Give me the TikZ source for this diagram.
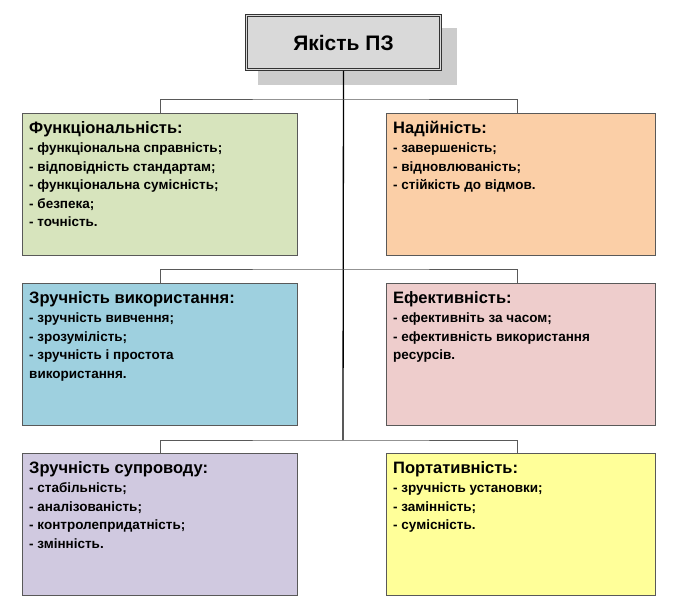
\documentclass[tikz,border=0pt]{standalone}
\usepackage{fontspec}
\setmainfont{Liberation Sans}
\usetikzlibrary{positioning}
\definecolor{funcgreen}{RGB}{215,228,189}
\definecolor{relorange}{RGB}{251,207,167}
\definecolor{useblue}{RGB}{158,208,223}
\definecolor{effpink}{RGB}{238,205,204}
\definecolor{suplilac}{RGB}{208,201,224}
\definecolor{portyellow}{RGB}{255,255,153}
\newcommand{\cardhead}[1]{{\fontsize{16.5}{21}\selectfont #1}\\[1pt]}
\tikzset{
  card/.style={draw=gray!70!black, anchor=north west, minimum height=142pt, minimum width=#1},
  cardtext/.style={anchor=north west, align=left, inner xsep=7pt, inner ysep=8pt,
    font=\bfseries\fontsize{13.5}{18.5}\selectfont},
  branch/.style={draw=gray!70!black, line width=0.8pt}
}
\begin{document}
\begin{tikzpicture}[x=1pt,y=-1pt]
    \useasboundingbox (0,0) rectangle (673,616);
    % title with shadow
    \fill[gray!40] (258,28) rectangle (457,85);
    \node[fill=gray!30, draw=black!80, line width=0.8pt, minimum width=196pt, minimum height=56pt] (title) at (343.5,42.5) {};
    \draw[black!80, line width=0.8pt] ([shift={(2.5pt,-2.5pt)}]title.north west) rectangle ([shift={(-2.5pt,2.5pt)}]title.south east);
    \node[font=\bfseries\fontsize{21}{24}\selectfont] at (title) {Якість ПЗ};

    % cards
    \node[card=275pt, fill=funcgreen] (func) at (22,113) {};
    \node[card=269pt, fill=relorange] (rel) at (386,113) {};
    \node[card=275pt, fill=useblue] (use) at (22,283) {};
    \node[card=269pt, fill=effpink] (eff) at (386,283) {};
    \node[card=275pt, fill=suplilac] (sup) at (22,453) {};
    \node[card=269pt, fill=portyellow] (port) at (386,453) {};

    \node[cardtext] at (func.north west)
      {\cardhead{Функціональність:}- функціональна справність;\\- відповідність стандартам;\\- функціональна сумісність;\\- безпека;\\- точність.};
    \node[cardtext] at (rel.north west)
      {\cardhead{Надійність:}- завершеність;\\- відновлюваність;\\- стійкість до відмов.};
    \node[cardtext] at (use.north west)
      {\cardhead{Зручність використання:}- зручність вивчення;\\- зрозумілість;\\- зручність і простота\\ використання.};
    \node[cardtext] at (eff.north west)
      {\cardhead{Ефективність:}- ефективніть за часом;\\- ефективність використання\\ ресурсів.};
    \node[cardtext] at (sup.north west)
      {\cardhead{Зручність супроводу:}- стабільність;\\- аналізованість;\\- контролепридатність;\\- змінність.};
    \node[cardtext] at (port.north west)
      {\cardhead{Портативність:}- зручність установки;\\- замінність;\\- сумісність.};

    % connectors
    \coordinate (trunk) at (343,440);
    \draw[line width=1.3pt] (title.south) -- (trunk);
    \draw[branch] (func.north -| 160,0) |- (343,99) -| (rel.north -| 517,0);
    \draw[branch] (use.north -| 160,0) |- (343,269) -| (eff.north -| 517,0);
    \draw[branch] (sup.north -| 160,0) |- (343,440) -| (port.north -| 517,0);
\end{tikzpicture}
\end{document}
